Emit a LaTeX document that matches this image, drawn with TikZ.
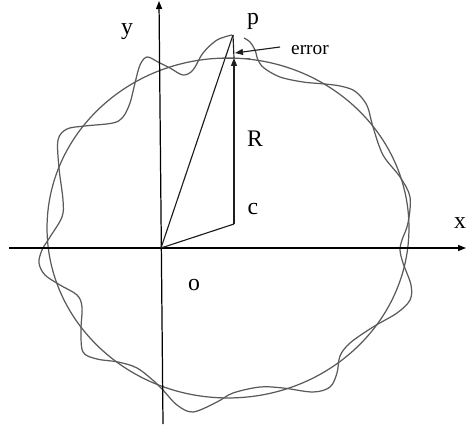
\documentclass[tikz,border=0pt]{standalone}
\usepackage{fontspec}
\setmainfont{Liberation Serif}
\usepackage{xcolor}
\usepackage{tikz}
\usetikzlibrary{arrows.meta}
\definecolor{cgray}{HTML}{5A5A5A}
\definecolor{cline}{HTML}{1E1E1E}

\begin{document}
\begin{tikzpicture}[x=0.02cm, y=-0.02cm,
  axis/.style={draw=black, line width=0.7pt},
  seg/.style={draw=cline, line width=0.65pt},
  curv/.style={draw=cgray, line width=0.7pt},
  tip/.style={-{Triangle[length=0.16cm, width=0.12cm]}},
  lbl/.style={font=\fontsize{13.5}{16}\selectfont, anchor=base, inner sep=0pt},
  smalllbl/.style={font=\fontsize{11}{13}\selectfont, anchor=base, inner sep=0pt}]
\useasboundingbox (0,0) rectangle (466,425);
\coordinate (o) at (161,248);
\coordinate (c) at (234,224);
\coordinate (p) at (233,35);
\coordinate (tickm) at (234,58);
\coordinate (tickl) at (215,58);
\coordinate (tickr) at (250,58);
\coordinate (errtail) at (280,47);
\coordinate (errtip) at (235,53);
\coordinate (xstart) at (9,248);
\coordinate (xend) at (466,248);
\coordinate (ystart) at (163,424);
\coordinate (yend) at (159,1);
\draw[curv] (228,228) ellipse [x radius=3.62cm, y radius=3.4cm];
\draw[curv] plot[smooth, tension=0.55] coordinates {
  (244,38) (250,42) (255,50) (258,60) (264,68) (280,77) (303,82) (325,84)
  (340,86) (353,90) (362,98) (368,108) (373,127) (383,155) (400,177) (410,197)
  (408,223) (402,240) (400,250) (403,263) (411,285) (410,300) (397,313) (373,327)
  (350,343) (340,356) (337,373) (330,387) (313,392) (283,388) (260,387) (233,393)
  (217,402) (193,412) (177,405) (163,390) (155,382) (137,368) (118,362) (97,359)
  (83,352) (81,330) (82,307) (77,295) (60,285) (45,275) (39,263) (42,250)
  (50,237) (62,217) (63,200) (59,168) (58,140) (67,129) (85,126) (113,123)
  (123,117) (130,103) (135,83) (140,65) (147,57) (158,62) (170,68) (183,75)
  (193,70) (203,53) (217,40) (232,35)};
\draw[axis, tip] (xstart) -- (xend);
\draw[axis, tip] (ystart) -- (yend);
\draw[seg] (o) -- (p);
\draw[seg] (o) -- (c);
\draw[seg] (p) -- (tickm);
\draw[seg, tip] (c) -- (tickm);
\draw[curv, line width=0.55pt] (tickl) -- (tickr);
\draw[seg, tip] (errtail) -- (errtip);
\node[lbl] (plbl) at (253,25) {p};
\node[lbl] (ylbl) at (127,35) {y};
\node[lbl] (rlbl) at (255,147) {R};
\node[lbl] (clbl) at (253,215) {c};
\node[lbl] (xlbl) at (460,229) {x};
\node[lbl] (olbl) at (194,291) {o};
\node[smalllbl] (errlbl) at (310,55) {error};
\end{tikzpicture}
\end{document}
